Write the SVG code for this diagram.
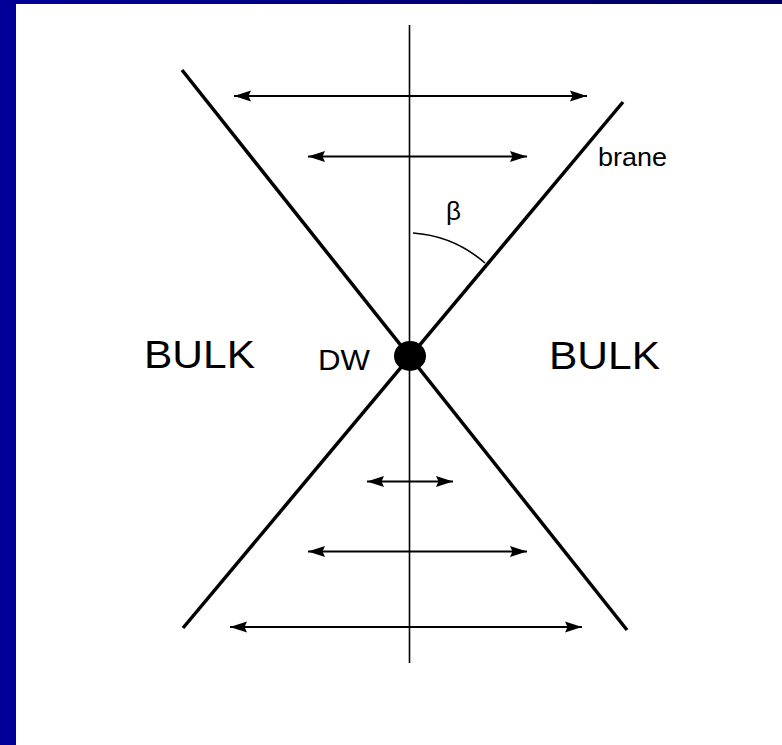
<svg xmlns="http://www.w3.org/2000/svg" width="782" height="745" viewBox="0 0 782 745">
<defs>
<linearGradient id="topg" x1="0" y1="0" x2="1" y2="0">
<stop offset="0" stop-color="#000099"/>
<stop offset="1" stop-color="#000060"/>
</linearGradient>
<marker id="ah" viewBox="0 0 17 12" refX="17" refY="6" markerWidth="17" markerHeight="12" markerUnits="userSpaceOnUse" orient="auto-start-reverse">
<path d="M0,0.5 L17,6 L0,11.5 L2.5,6 Z" fill="#000"/>
</marker>
<style>
.ln{stroke:#000;fill:none}
.thick{stroke-width:3.5}
.thin{stroke-width:1.6}
.arr{stroke-width:2;marker-start:url(#ah);marker-end:url(#ah)}
.t{font-family:"Liberation Sans",Arial,sans-serif;fill:#000}
</style>
</defs>
<rect width="782" height="745" fill="#fff"/>
<rect x="0" y="0" width="782" height="4" fill="url(#topg)"/>
<rect x="0" y="0" width="16" height="745" fill="#000099"/>

<g id="axis"><line class="ln thin" x1="409.5" y1="25" x2="409.5" y2="663"/></g>
<g id="brane-left"><line class="ln thick" x1="182" y1="70" x2="627" y2="630"/></g>
<g id="brane-right"><line class="ln thick" x1="623" y1="102" x2="183" y2="628"/></g>
<g id="angle"><path class="ln thin" d="M413,233 A123,123 0 0 1 485,263"/></g>
<g id="dw-dot"><ellipse cx="410" cy="356" rx="16" ry="15" fill="#000"/></g>

<g id="connectors">
<line class="ln arr" x1="234" y1="96" x2="587" y2="96"/>
<line class="ln arr" x1="308" y1="156.5" x2="527" y2="156.5"/>
<line class="ln arr" x1="367" y1="481.5" x2="453" y2="481.5"/>
<line class="ln arr" x1="308" y1="551.5" x2="527" y2="551.5"/>
<line class="ln arr" x1="230" y1="627" x2="582" y2="627"/>
</g>

<g id="labels">
<text class="t" x="144" y="368" font-size="39" textLength="111" lengthAdjust="spacingAndGlyphs">BULK</text>
<text class="t" x="549" y="369" font-size="39" textLength="111" lengthAdjust="spacingAndGlyphs">BULK</text>
<text class="t" x="318" y="370" font-size="29" textLength="52" lengthAdjust="spacingAndGlyphs">DW</text>
<text class="t" x="446" y="220" font-size="26">β</text>
<text class="t" x="598" y="166" font-size="25" textLength="69" lengthAdjust="spacingAndGlyphs">brane</text>
</g>
</svg>
